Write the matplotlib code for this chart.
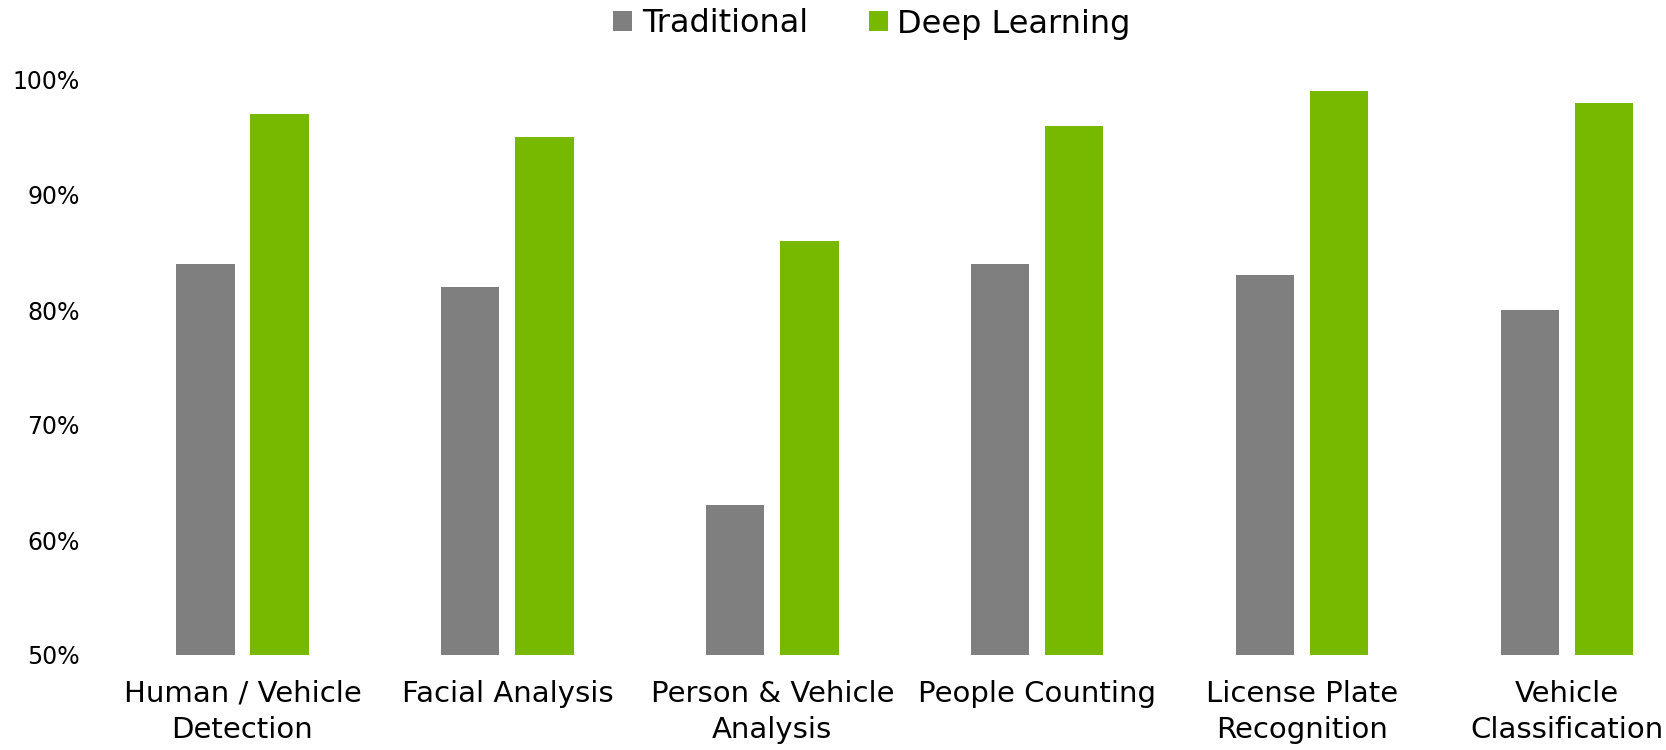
import matplotlib.pyplot as plt
import numpy as np
from matplotlib import font_manager
from matplotlib.ticker import FuncFormatter

categories = ["Human / Vehicle\nDetection", "Facial Analysis", "Person & Vehicle\nAnalysis",
              "People Counting", "License Plate\nRecognition", "Vehicle\nClassification"]
traditional = [84, 82, 63, 84, 83, 80]
deep_learning = [97, 95, 86, 96, 99, 98]

names = {f.name for f in font_manager.fontManager.ttflist}
font = 'Liberation Sans Narrow' if 'Liberation Sans Narrow' in names else 'DejaVu Sans'
plt.rcParams['font.family'] = [font, 'DejaVu Sans']

W, H = 1666, 750
fig = plt.figure(figsize=(W / 100, H / 100), dpi=100)
# axes spans from x=110px to the right edge, y from 80px to 655px
ax = fig.add_axes([110 / W, (H - 655) / H, (W - 110) / W, (655 - 80) / H])

x = np.arange(len(categories))
width = 0.22
off = 0.14
ax.bar(x - off, traditional, width, color='#7f7f7f', linewidth=0, label='Traditional')
ax.bar(x + off, deep_learning, width, color='#76b900', linewidth=0, label='Deep Learning')

ax.set_ylim(50, 100)
ax.set_xlim(-0.5, (W - 242) / 265)
ax.set_yticks([50, 60, 70, 80, 90, 100])
ax.yaxis.set_major_formatter(FuncFormatter(lambda v, p: f'{v:.0f}%'))
ax.set_xticks(x)
ax.set_xticklabels(categories, fontsize=21, linespacing=1.35)
ax.tick_params(axis='y', length=0, pad=22, labelsize=17)
ax.tick_params(axis='x', length=0, pad=18)
for s in ax.spines.values():
    s.set_visible(False)

fig.legend(loc='center', bbox_to_anchor=(872 / W, 1 - 24 / H), ncol=2, frameon=False,
           fontsize=23, handlelength=0.6, handleheight=0.6, handletextpad=0.3, columnspacing=1.9)

fig.savefig('out.png', dpi=100)
